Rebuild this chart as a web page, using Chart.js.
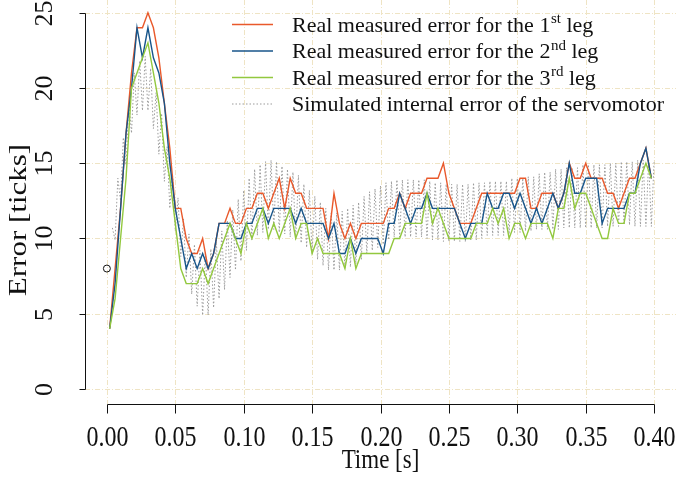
<!DOCTYPE html>
<html>
<head>
<meta charset="utf-8">
<script src="https://cdn.jsdelivr.net/npm/chart.js@4.4.1/dist/chart.umd.min.js"></script>
<style>
  html, body { margin: 0; padding: 0; background: #ffffff; }
  canvas { display: block; }
</style>
</head>
<body>
<canvas id="errorChart" width="677" height="477"></canvas>
<script>
// Tracking error of the three legs (encoder ticks), sampled every 4 ms
const measureStart = 0.002;
const measureStep = 0.004;
const leg1Error = [4, 8, 12, 17, 21, 24, 24, 25, 24, 22, 19, 16, 12, 12, 10, 9, 9, 10, 8, 9,
  11, 11, 12, 11, 11, 12, 12, 13, 13, 12, 13, 14, 12, 14, 13, 13, 12, 12, 12, 12,
  10, 13, 11, 10, 11, 10, 11, 11, 11, 11, 11, 12, 12, 13, 12, 13, 13, 13, 14, 14,
  14, 15, 13, 12, 11, 11, 11, 12, 13, 13, 13, 13, 13, 13, 13, 14, 14, 12, 12, 13,
  13, 13, 12, 13, 15, 14, 14, 15, 14, 14, 14, 13, 13, 12, 13, 14, 14, 15, 16, 14];
const leg2Error = [4, 7, 12, 17, 20, 24, 22, 24, 22, 21, 19, 15, 12, 10, 8, 9, 8, 9, 8, 9,
  11, 11, 11, 10, 10, 11, 11, 12, 12, 11, 12, 12, 12, 12, 11, 12, 11, 11, 11, 11,
  10, 11, 9, 9, 10, 9, 10, 10, 10, 10, 9, 11, 11, 13, 12, 11, 12, 12, 13, 12,
  12, 12, 12, 12, 11, 10, 11, 11, 11, 13, 12, 12, 13, 13, 12, 13, 12, 11, 12, 11,
  12, 13, 12, 13, 15, 13, 13, 14, 14, 14, 11, 12, 12, 12, 12, 13, 13, 15, 16, 14];
const leg3Error = [4, 6, 10, 14, 20, 21, 22, 23, 21, 19, 16, 14, 11, 8, 7, 7, 7, 8, 7, 8,
  9, 10, 11, 10, 9, 11, 10, 11, 12, 10, 11, 10, 11, 12, 10, 11, 11, 9, 10, 9,
  9, 9, 9, 8, 10, 8, 9, 9, 9, 9, 9, 9, 10, 10, 11, 11, 11, 11, 13, 11,
  12, 11, 10, 10, 10, 10, 10, 11, 11, 11, 12, 11, 12, 10, 11, 11, 10, 11, 11, 11,
  11, 10, 12, 12, 14, 12, 13, 13, 12, 11, 10, 10, 12, 11, 11, 13, 13, 14, 15, 14];

// Simulated internal servomotor error, sampled every 2 ms
const simStart = 0.004;
const simStep = 0.002;
const servoError = [10.7, 9.9, 14.0, 12.5, 16.7, 14.9, 19.0, 17.0, 21.0, 18.2,
  21.8, 18.5, 22.1, 18.5, 21.3, 17.3, 19.7, 15.6, 18.3, 13.8,
  16.1, 12.0, 14.3, 10.5, 12.7, 8.8, 11.3, 7.4, 10.3, 6.3,
  9.6, 5.5, 9.2, 4.9, 9.1, 4.9, 9.3, 5.4, 9.9, 6.0,
  10.5, 6.6, 11.2, 7.4, 11.9, 7.9, 12.6, 8.5, 13.2, 9.2,
  14.0, 9.9, 14.6, 10.2, 14.9, 10.4, 15.1, 10.6, 15.2, 10.6,
  15.1, 10.4, 14.8, 10.3, 14.6, 10.1, 14.4, 9.9, 14.2, 9.7,
  13.6, 9.4, 13.2, 9.0, 12.8, 8.6, 12.4, 8.2, 12.0, 7.9,
  11.7, 7.9, 11.7, 7.9, 11.8, 8.0, 12.0, 8.1, 12.2, 8.3,
  12.4, 8.6, 12.8, 9.0, 13.1, 9.2, 13.3, 9.4, 13.5, 9.6,
  13.7, 9.9, 13.8, 10.1, 13.9, 10.1, 13.9, 10.1, 13.9, 10.1,
  13.9, 10.1, 13.9, 10.1, 13.9, 10.0, 13.8, 9.9, 13.7, 9.9,
  13.7, 9.8, 13.6, 9.8, 13.6, 9.8, 13.6, 9.8, 13.6, 9.8,
  13.6, 9.9, 13.7, 9.9, 13.7, 10.0, 13.7, 10.2, 13.8, 10.2,
  13.8, 10.2, 13.8, 10.2, 13.8, 10.3, 14.0, 10.4, 14.0, 10.4,
  14.0, 10.5, 14.1, 10.5, 14.1, 10.6, 14.3, 10.6, 14.4, 10.6,
  14.4, 10.6, 14.6, 10.6, 14.6, 10.7, 14.7, 10.7, 14.7, 10.7,
  14.7, 10.7, 14.9, 10.7, 14.9, 10.7, 14.9, 10.7, 14.9, 10.7,
  14.9, 10.8, 15.0, 10.8, 15.0, 10.8, 15.1, 10.9, 15.1, 10.9,
  15.1, 10.8, 15.2, 10.8, 15.2, 10.8, 15.2, 10.8, 15.2];

// Single open marker at the start of the record
const markerTime = [0];
const markerError = [8];

const legendLabels = [
  'Real measured error for the 1st leg',
  'Real measured error for the 2nd leg',
  'Real measured error for the 3rd leg',
  'Simulated internal error of the servomotor'
];
const xTicks = [0, 0.05, 0.10, 0.15, 0.20, 0.25, 0.30, 0.35, 0.40];
const xTickLabels = ['0.00', '0.05', '0.10', '0.15', '0.20', '0.25', '0.30', '0.35', '0.40'];
const yTicks = [0, 5, 10, 15, 20, 25];
const yTickLabels = ['0', '5', '10', '15', '20', '25'];
const xTitle = 'Time [s]';
const yTitle = 'Error [ticks]';

const colors = {
  leg1: '#e9592b',
  leg2: '#17558a',
  leg3: '#92c83e',
  servo: '#9b9b9b',
  grid: '#efe4c4',
  ink: '#111111'
};
const serif = '"Liberation Serif", "Times New Roman", Times, serif';

function seriesPoints(start, step, values) {
  return values.map((v, i) => ({ x: +(start + i * step).toFixed(4), y: v }));
}

// Text with its own stretch and rotation, anchored at (x, y)
function label(ctx, text, x, y, size, opts) {
  const o = Object.assign({ sx: 1, sy: 1, rot: 0, align: 'center' }, opts || {});
  ctx.save();
  ctx.translate(x, y);
  ctx.rotate(o.rot);
  ctx.scale(o.sx, o.sy);
  ctx.font = size + 'px ' + serif;
  ctx.textAlign = o.align;
  ctx.textBaseline = 'alphabetic';
  ctx.fillText(text, 0, 0);
  ctx.restore();
}

// Grid, R-style detached axes and the legend are painted around the library's scales
const frame = {
  id: 'frame',
  beforeDatasetsDraw(chart) {
    const { ctx, chartArea: a, scales: { x, y } } = chart;
    ctx.save();
    ctx.strokeStyle = colors.grid;
    ctx.lineWidth = 1;
    ctx.setLineDash([5, 2, 1, 2]);
    xTicks.forEach(v => {
      const px = Math.round(x.getPixelForValue(v)) + 0.5;
      ctx.beginPath(); ctx.moveTo(px, a.top); ctx.lineTo(px, a.bottom); ctx.stroke();
    });
    yTicks.forEach(v => {
      const py = Math.round(y.getPixelForValue(v)) + 0.5;
      ctx.beginPath(); ctx.moveTo(a.left, py); ctx.lineTo(a.right, py); ctx.stroke();
    });
    ctx.restore();
  },
  afterDraw(chart) {
    const { ctx, chartArea: a, scales: { x, y } } = chart;
    ctx.save();
    ctx.strokeStyle = colors.ink;
    ctx.fillStyle = colors.ink;
    ctx.lineWidth = 1;
    ctx.setLineDash([]);

    // y axis
    const ax = Math.round(a.left) + 0.5;
    const y0 = y.getPixelForValue(yTicks[0]);
    const y1 = y.getPixelForValue(yTicks[yTicks.length - 1]);
    ctx.beginPath(); ctx.moveTo(ax, Math.round(y0) + 0.5); ctx.lineTo(ax, Math.round(y1) + 0.5); ctx.stroke();
    yTicks.forEach((v, i) => {
      const py = Math.round(y.getPixelForValue(v)) + 0.5;
      ctx.beginPath(); ctx.moveTo(ax - 6, py); ctx.lineTo(ax, py); ctx.stroke();
      label(ctx, yTickLabels[i], 52, py, 26, { rot: -Math.PI / 2 });
    });
    label(ctx, yTitle, 26, 220, 31, { rot: -Math.PI / 2, sy: 0.8 });

    // x axis
    const ay = Math.round(a.bottom) + 0.5;
    const x0 = x.getPixelForValue(xTicks[0]);
    const x1 = x.getPixelForValue(xTicks[xTicks.length - 1]);
    ctx.beginPath(); ctx.moveTo(Math.round(x0) + 0.5, ay); ctx.lineTo(Math.round(x1) + 0.5, ay); ctx.stroke();
    xTicks.forEach((v, i) => {
      const px = Math.round(x.getPixelForValue(v)) + 0.5;
      ctx.beginPath(); ctx.moveTo(px, ay); ctx.lineTo(px, ay + 9); ctx.stroke();
      label(ctx, xTickLabels[i], px, 446, 24, { sy: 1.25 });
    });
    label(ctx, xTitle, (a.left + a.right) / 2, 468, 23, { sy: 1.2 });

    // legend
    const rowY = [24, 50.5, 77, 103.5];
    rowY.forEach((yy, r) => {
      const ds = chart.data.datasets[r];
      ctx.save();
      ctx.strokeStyle = ds.borderColor;
      ctx.lineWidth = ds.borderWidth;
      ctx.setLineDash(ds.borderDash || []);
      ctx.beginPath(); ctx.moveTo(232, yy + 0.5); ctx.lineTo(273, yy + 0.5); ctx.stroke();
      ctx.restore();
      const text = legendLabels[r];
      const m = text.match(/^(.*\d)(st|nd|rd|th)(.*)$/);
      let tx = 292;
      const base = yy + 7.5;
      if (m) {
        label(ctx, m[1], tx, base, 22, { align: 'left' });
        ctx.font = '22px ' + serif;
        tx += ctx.measureText(m[1]).width + 0.5;
        label(ctx, m[2], tx, base - 8.5, 15, { align: 'left' });
        ctx.font = '15px ' + serif;
        tx += ctx.measureText(m[2]).width;
        label(ctx, m[3], tx, base, 22, { align: 'left' });
      } else {
        label(ctx, text, tx, base, 22, { align: 'left' });
      }
    });
    ctx.restore();
  }
};

new Chart(document.getElementById('errorChart'), {
  type: 'line',
  data: {
    datasets: [
      {
        label: legendLabels[0],
        data: seriesPoints(measureStart, measureStep, leg1Error),
        borderColor: colors.leg1, borderWidth: 1.4, pointRadius: 0, tension: 0, order: 3
      },
      {
        label: legendLabels[1],
        data: seriesPoints(measureStart, measureStep, leg2Error),
        borderColor: colors.leg2, borderWidth: 1.4, pointRadius: 0, tension: 0, order: 2
      },
      {
        label: legendLabels[2],
        data: seriesPoints(measureStart, measureStep, leg3Error),
        borderColor: colors.leg3, borderWidth: 1.4, pointRadius: 0, tension: 0, order: 1
      },
      {
        label: legendLabels[3],
        data: seriesPoints(simStart, simStep, servoError),
        borderColor: colors.servo, borderWidth: 1, borderDash: [1.5, 2],
        pointRadius: 0, tension: 0, order: 4
      },
      {
        type: 'scatter',
        label: 'start',
        data: markerTime.map((t, i) => ({ x: t, y: markerError[i] })),
        pointRadius: 3.5, pointBorderWidth: 1,
        pointBackgroundColor: 'rgba(0,0,0,0)', pointBorderColor: colors.ink,
        borderColor: colors.ink, order: 0
      }
    ]
  },
  options: {
    responsive: false,
    devicePixelRatio: 1,
    animation: false,
    layout: { autoPadding: false, padding: { left: 85, right: 1, top: 0, bottom: 73 } },
    scales: {
      x: { type: 'linear', min: -0.016, max: 0.416, display: false },
      y: { type: 'linear', min: -1, max: 25.844, display: false }
    },
    plugins: { legend: { display: false }, tooltip: { enabled: false } }
  },
  plugins: [frame]
});
</script>
</body>
</html>
